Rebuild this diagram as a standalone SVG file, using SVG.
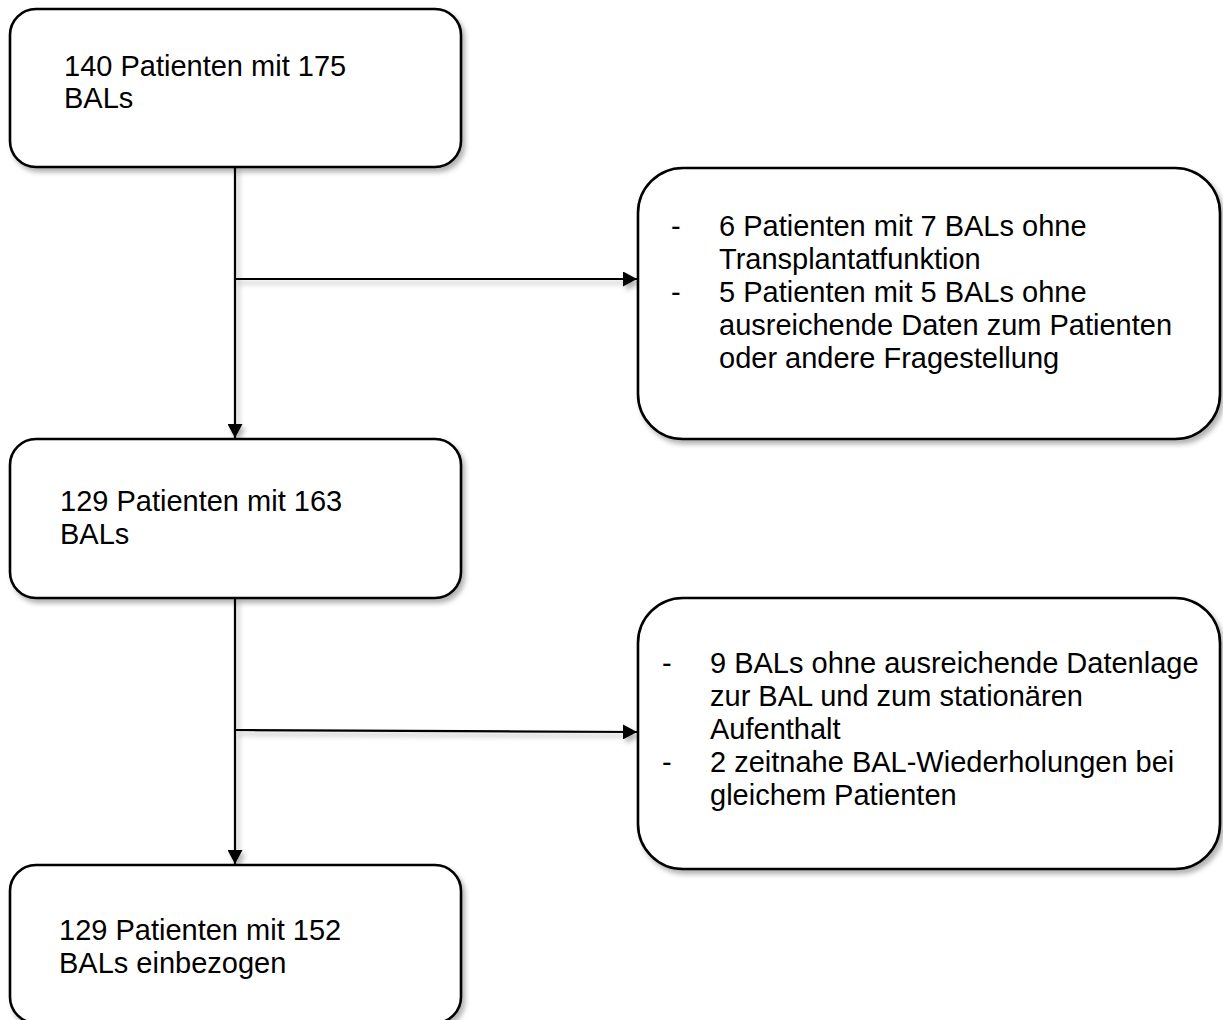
<svg xmlns="http://www.w3.org/2000/svg" width="1223" height="1020" viewBox="0 0 1223 1020">
  <style>
    .box { fill: #ffffff; stroke: #000000; stroke-width: 2.6; filter: url(#shadow); }
    .conn { fill: none; stroke: #000000; stroke-width: 2.2; }
    .lbl { font-family: "Liberation Sans", Arial, sans-serif; font-size: 29px; fill: #000000; }
  </style>
  <defs>
    <filter id="shadow" x="-10%" y="-10%" width="130%" height="140%">
      <feDropShadow dx="3" dy="4" stdDeviation="2.5" flood-color="#000000" flood-opacity="0.3"/>
    </filter>
    <marker id="arrow" viewBox="0 0 14 15" refX="14" refY="7.5" markerWidth="14" markerHeight="15" markerUnits="userSpaceOnUse" orient="auto">
      <path d="M0,0 L14,7.5 L0,15 Z" fill="#000000"/>
    </marker>
  </defs>
  <rect width="1223" height="1020" fill="#ffffff"/>

  <g id="connectors" filter="url(#shadow)">
    <line class="conn" x1="235" y1="167" x2="235" y2="438" marker-end="url(#arrow)"/>
    <line class="conn" x1="235" y1="279" x2="637" y2="279" marker-end="url(#arrow)"/>
    <line class="conn" x1="235" y1="598" x2="235" y2="864" marker-end="url(#arrow)"/>
    <line class="conn" x1="235" y1="730" x2="637" y2="732" marker-end="url(#arrow)"/>
  </g>

  <g id="node1">
    <rect class="box" x="10" y="9" width="451" height="158" rx="26" ry="26"/>
    <text class="lbl" x="64" y="76">140 Patienten mit 175</text>
    <text class="lbl" x="64" y="108">BALs</text>
  </g>

  <g id="node2">
    <rect class="box" x="638" y="168" width="582" height="271" rx="45" ry="45"/>
    <text class="lbl" x="671" y="236">-</text>
    <text class="lbl" x="719" y="236">6 Patienten mit 7 BALs ohne</text>
    <text class="lbl" x="719" y="269">Transplantatfunktion</text>
    <text class="lbl" x="671" y="302">-</text>
    <text class="lbl" x="719" y="302">5 Patienten mit 5 BALs ohne</text>
    <text class="lbl" x="719" y="335">ausreichende Daten zum Patienten</text>
    <text class="lbl" x="719" y="368">oder andere Fragestellung</text>
  </g>

  <g id="node3">
    <rect class="box" x="10" y="439" width="451" height="159" rx="26" ry="26"/>
    <text class="lbl" x="60" y="511">129 Patienten mit 163</text>
    <text class="lbl" x="60" y="544">BALs</text>
  </g>

  <g id="node4">
    <rect class="box" x="638" y="598" width="582" height="271" rx="45" ry="45"/>
    <text class="lbl" x="662" y="673">-</text>
    <text class="lbl" x="710" y="673">9 BALs ohne ausreichende Datenlage</text>
    <text class="lbl" x="710" y="706">zur BAL und zum stationären</text>
    <text class="lbl" x="710" y="739">Aufenthalt</text>
    <text class="lbl" x="662" y="772">-</text>
    <text class="lbl" x="710" y="772">2 zeitnahe BAL-Wiederholungen bei</text>
    <text class="lbl" x="710" y="805">gleichem Patienten</text>
  </g>

  <g id="node5">
    <rect class="box" x="10" y="865" width="451" height="158" rx="26" ry="26"/>
    <text class="lbl" x="59" y="940">129 Patienten mit 152</text>
    <text class="lbl" x="59" y="973">BALs einbezogen</text>
  </g>
</svg>
